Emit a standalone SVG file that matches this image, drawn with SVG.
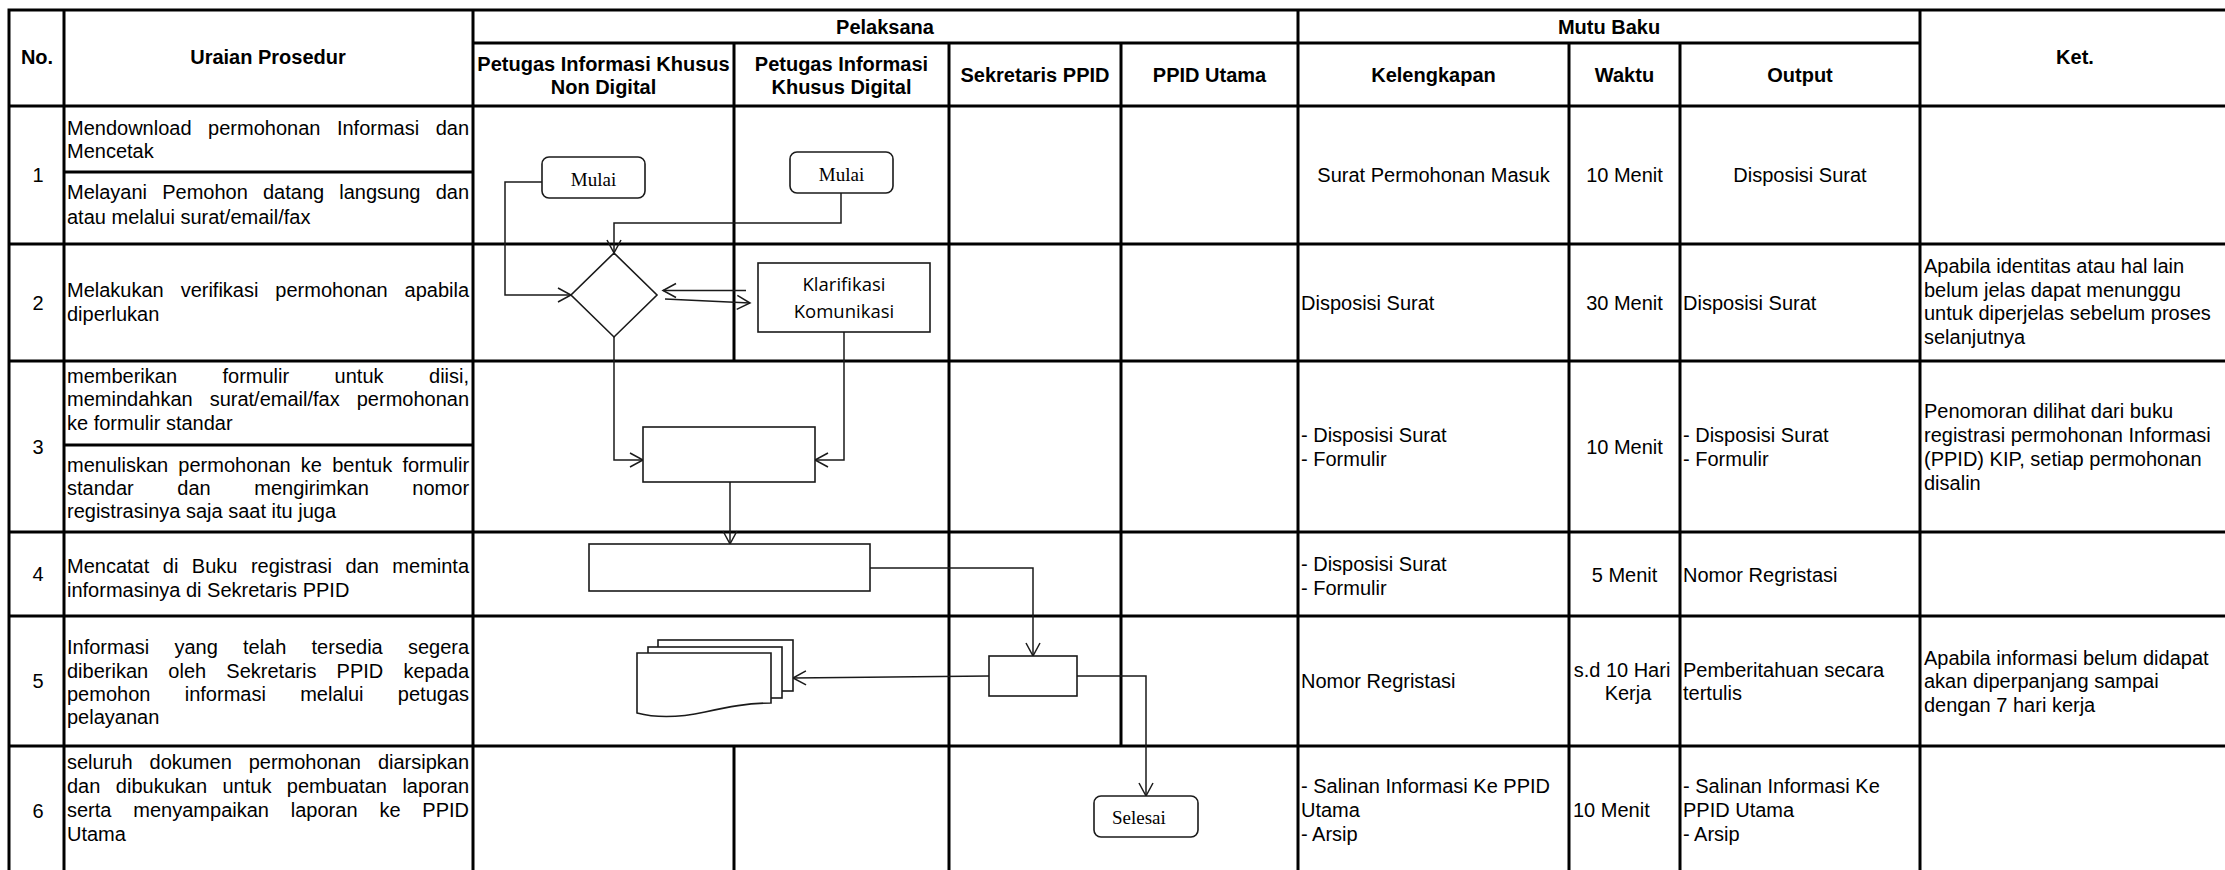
<svg xmlns="http://www.w3.org/2000/svg" width="2225" height="870" viewBox="0 0 2225 870">
<defs>
<style>
.g{stroke:#000;stroke-width:3;fill:none;stroke-linecap:square}
.t{font-family:"Liberation Sans",Arial,sans-serif;font-size:20px;fill:#000}
.b{font-weight:bold}
.c{text-anchor:middle}
.n{fill:#fff;stroke:#1a1a1a;stroke-width:1.6}
.e{fill:none;stroke:#1a1a1a;stroke-width:1.5}
.s{font-family:"Liberation Serif","Times New Roman",serif;font-size:19px;fill:#000}
.k{font-family:"Open Sans",sans-serif;font-size:18.5px;fill:#000;text-anchor:middle}
</style>
<marker id="a" markerUnits="userSpaceOnUse" markerWidth="16" markerHeight="16" refX="13" refY="7" orient="auto" overflow="visible"><path d="M0,0 L13,7 L0,14" fill="none" stroke="#1a1a1a" stroke-width="1.5"/></marker>
</defs>
<rect width="2225" height="870" fill="#fff"/>

<g id="table">
<path class="g" d="M9,10 H2230 M473,43 H1920 M9,106 H2230 M64,172 H473 M9,244 H2230 M9,361 H2230 M64,445 H473 M9,532 H2230 M9,616 H2230 M9,746 H2230 M9,10 V872 M64,10 V872 M473,10 V872 M734,43 V361 M734,746 V872 M949,43 V872 M1121,43 V746 M1298,10 V872 M1569,43 V872 M1680,43 V872 M1920,10 V872"/>
</g>

<g id="header" class="t b">
<text class="c" x="37" y="64">No.</text>
<text class="c" x="268" y="64">Uraian Prosedur</text>
<text class="c" x="885" y="33.5">Pelaksana</text>
<text class="c" x="1609" y="33.5">Mutu Baku</text>
<text class="c" x="2075" y="64">Ket.</text>
<text class="c" x="603.5" y="70.5">Petugas Informasi Khusus</text>
<text class="c" x="603.5" y="94">Non Digital</text>
<text class="c" x="841.5" y="70.5">Petugas Informasi</text>
<text class="c" x="841.5" y="94">Khusus Digital</text>
<text class="c" x="1035" y="81.5">Sekretaris PPID</text>
<text class="c" x="1209.5" y="81.5">PPID Utama</text>
<text class="c" x="1433.5" y="81.5">Kelengkapan</text>
<text class="c" x="1624.5" y="81.5">Waktu</text>
<text class="c" x="1800" y="81.5">Output</text>
</g>

<g id="nomor" class="t c">
<text x="38" y="182">1</text>
<text x="38" y="309.5">2</text>
<text x="38" y="453.5">3</text>
<text x="38" y="581">4</text>
<text x="38" y="688">5</text>
<text x="38" y="818">6</text>
</g>

<g id="uraian" class="t">
<text x="67" y="134.5" word-spacing="10.98">Mendownload permohonan Informasi dan</text>
<text x="67" y="158">Mencetak</text>
<text x="67" y="199" word-spacing="9.6">Melayani Pemohon datang langsung dan</text>
<text x="67" y="223.5">atau melalui surat/email/fax</text>
<text x="67" y="297" word-spacing="11.36">Melakukan verifikasi permohonan apabila</text>
<text x="67" y="320.5">diperlukan</text>
<text x="67" y="383" word-spacing="39.9">memberikan formulir untuk diisi,</text>
<text x="67" y="406" word-spacing="11.48">memindahkan surat/email/fax permohonan</text>
<text x="67" y="430">ke formulir standar</text>
<text x="67" y="472" word-spacing="4.63">menuliskan permohonan ke bentuk formulir</text>
<text x="67" y="495" word-spacing="38.04">standar dan mengirimkan nomor</text>
<text x="67" y="518">registrasinya saja saat itu juga</text>
<text x="67" y="573" word-spacing="7.93">Mencatat di Buku registrasi dan meminta</text>
<text x="67" y="596.5">informasinya di Sekretaris PPID</text>
<text x="67" y="654" word-spacing="19.63">Informasi yang telah tersedia segera</text>
<text x="67" y="677.5" word-spacing="14.63">diberikan oleh Sekretaris PPID kepada</text>
<text x="67" y="700.5" word-spacing="28.77">pemohon informasi melalui petugas</text>
<text x="67" y="723.5">pelayanan</text>
<text x="67" y="769" word-spacing="11.35">seluruh dokumen permohonan diarsipkan</text>
<text x="67" y="793" word-spacing="9.9">dan dibukukan untuk pembuatan laporan</text>
<text x="67" y="817" word-spacing="16.3">serta menyampaikan laporan ke PPID</text>
<text x="67" y="841">Utama</text>
</g>

<g id="mutu-baku" class="t">
<text class="c" x="1433.5" y="182">Surat Permohonan Masuk</text>
<text class="c" x="1624.5" y="182">10 Menit</text>
<text class="c" x="1800" y="182">Disposisi Surat</text>

<text x="1301" y="309.5">Disposisi Surat</text>
<text class="c" x="1624.5" y="309.5">30 Menit</text>
<text x="1683" y="309.5">Disposisi Surat</text>

<text x="1301" y="442">- Disposisi Surat</text>
<text x="1301" y="465.5">- Formulir</text>
<text class="c" x="1624.5" y="453.5">10 Menit</text>
<text x="1683" y="442">- Disposisi Surat</text>
<text x="1683" y="465.5">- Formulir</text>

<text x="1301" y="571">- Disposisi Surat</text>
<text x="1301" y="594.5">- Formulir</text>
<text class="c" x="1624.5" y="582">5 Menit</text>
<text x="1683" y="582">Nomor Regristasi</text>

<text x="1301" y="688">Nomor Regristasi</text>
<text class="c" x="1622" y="676.5">s.d 10 Hari</text>
<text class="c" x="1628" y="700">Kerja</text>
<text x="1683" y="676.5">Pemberitahuan secara</text>
<text x="1683" y="700">tertulis</text>

<text x="1301" y="793">- Salinan Informasi Ke PPID</text>
<text x="1301" y="817">Utama</text>
<text x="1301" y="841">- Arsip</text>
<text x="1573" y="817">10 Menit</text>
<text x="1683" y="793">- Salinan Informasi Ke</text>
<text x="1683" y="817">PPID Utama</text>
<text x="1683" y="841">- Arsip</text>
</g>

<g id="keterangan" class="t">
<text x="1924" y="273">Apabila identitas atau hal lain</text>
<text x="1924" y="296.5">belum jelas dapat menunggu</text>
<text x="1924" y="320">untuk diperjelas sebelum proses</text>
<text x="1924" y="343.5">selanjutnya</text>
<text x="1924" y="418">Penomoran dilihat dari buku</text>
<text x="1924" y="442">registrasi permohonan Informasi</text>
<text x="1924" y="466">(PPID) KIP, setiap permohonan</text>
<text x="1924" y="490">disalin</text>
<text x="1924" y="664.5">Apabila informasi belum didapat</text>
<text x="1924" y="688">akan diperpanjang sampai</text>
<text x="1924" y="711.5">dengan 7 hari kerja</text>
</g>

<g id="connectors" class="e">
<path d="M542,182 H505 V295 H571" marker-end="url(#a)"/>
<path d="M841,193 V223 H614 V253" marker-end="url(#a)"/>
<path d="M746,290.5 H663" marker-end="url(#a)"/>
<path d="M665,299 L750,303" marker-end="url(#a)"/>
<path d="M614,337 V460 H643" marker-end="url(#a)"/>
<path d="M844,332 V460 H815" marker-end="url(#a)"/>
<path d="M730,482 V544" marker-end="url(#a)"/>
<path d="M870,568 H1033 V656" marker-end="url(#a)"/>
<path d="M989,676 L793,678" marker-end="url(#a)"/>
<path d="M1077,676 H1146 V796" marker-end="url(#a)"/>
</g>

<g id="mulai1">
<rect class="n" x="542" y="157" width="103" height="41" rx="7"/>
<text class="s" x="593.5" y="185.5" text-anchor="middle">Mulai</text>
</g>
<g id="mulai2">
<rect class="n" x="790" y="152" width="103" height="41" rx="7"/>
<text class="s" x="841.5" y="180.5" text-anchor="middle">Mulai</text>
</g>
<g id="keputusan">
<polygon class="n" points="614,253 657,295 614,337 571,295"/>
</g>
<g id="klarifikasi">
<rect class="n" x="758" y="263" width="172" height="69"/>
<text class="k" x="844" y="291">Klarifikasi</text>
<text class="k" x="844" y="318">Komunikasi</text>
</g>
<g id="proses-formulir">
<rect class="n" x="643" y="427" width="172" height="55"/>
</g>
<g id="proses-registrasi">
<rect class="n" x="589" y="544" width="281" height="47"/>
</g>
<g id="proses-sekretaris">
<rect class="n" x="989" y="656" width="88" height="40"/>
</g>
<g id="dokumen">
<rect class="n" x="658" y="640" width="135" height="51"/>
<rect class="n" x="648" y="647" width="134" height="51"/>
<path class="n" d="M637,653 H771 V703 C748,703 728,707 705,712 C682,717 660,719 637,713 Z"/>
</g>
<g id="selesai">
<rect class="n" x="1094" y="796" width="104" height="41" rx="7"/>
<text class="s" x="1112" y="824">Selesai</text>
</g>
</svg>
